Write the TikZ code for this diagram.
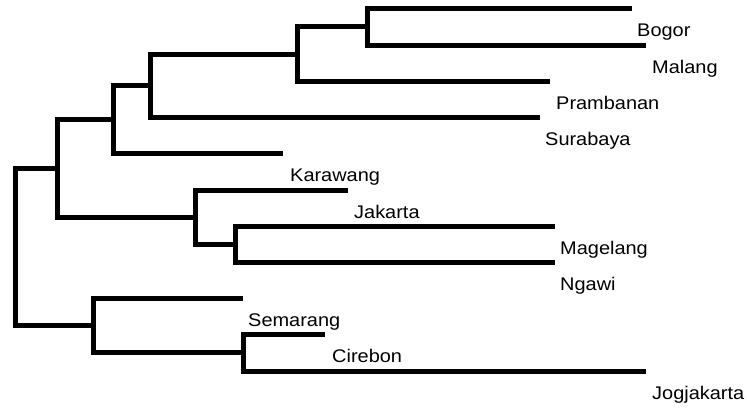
\documentclass[tikz,border=0pt]{standalone}
\usepackage{fontspec}
\setmainfont{Liberation Sans}
\newcommand{\leaftext}[1]{\scalebox{1.09}[1]{#1}}
\begin{document}
\begin{tikzpicture}[x=1pt,y=-1pt,
  branch/.style={line width=5pt,line cap=butt,line join=miter},
  leaflabel/.style={anchor=base west,inner sep=0pt,font=\fontsize{18.3}{20}\selectfont}]
\useasboundingbox (0,0) rectangle (747,407);
% internal nodes
\coordinate (A) at (15,246.5);
\coordinate (B) at (57,168);
\coordinate (C) at (113,119.5);
\coordinate (D) at (150,85.5);
\coordinate (E) at (297,54);
\coordinate (F) at (367,26.5);
\coordinate (H) at (195,217);
\coordinate (I) at (235,244);
\coordinate (K) at (93,325);
\coordinate (L) at (243,352.5);
% leaf ends
\coordinate (l1) at (632,8);
\coordinate (l2) at (646,45);
\coordinate (l3) at (550,81);
\coordinate (l4) at (540,117);
\coordinate (l5) at (283,153);
\coordinate (l6) at (348,190);
\coordinate (l7) at (555,226);
\coordinate (l8) at (555,262);
\coordinate (l9) at (243,298);
\coordinate (l10) at (325,334);
\coordinate (l11) at (646,371);
% branches
\draw[branch] (A) |- (B);
\draw[branch] (A) |- (K);
\draw[branch] (B) |- (C);
\draw[branch] (B) |- (H);
\draw[branch] (C) |- (D);
\draw[branch] (C) |- (l5);
\draw[branch] (D) |- (E);
\draw[branch] (D) |- (l4);
\draw[branch] (E) |- (F);
\draw[branch] (E) |- (l3);
\draw[branch] (F) |- (l1);
\draw[branch] (F) |- (l2);
\draw[branch] (H) |- (l6);
\draw[branch] (H) |- (I);
\draw[branch] (I) |- (l7);
\draw[branch] (I) |- (l8);
\draw[branch] (K) |- (l9);
\draw[branch] (K) |- (L);
\draw[branch] (L) |- (l10);
\draw[branch] (L) |- (l11);
% labels
\node[leaflabel] (t1) at (637,36.5) {\leaftext{Bogor}};
\node[leaflabel] (t2) at (652,73.5) {\leaftext{Malang}};
\node[leaflabel] (t3) at (556,109.5) {\leaftext{Prambanan}};
\node[leaflabel] (t4) at (545,145.5) {\leaftext{Surabaya}};
\node[leaflabel] (t5) at (290,181.5) {\leaftext{Karawang}};
\node[leaflabel] (t6) at (354,218.5) {\leaftext{Jakarta}};
\node[leaflabel] (t7) at (560,254.5) {\leaftext{Magelang}};
\node[leaflabel] (t8) at (560,290.5) {\leaftext{Ngawi}};
\node[leaflabel] (t9) at (248,326.5) {\leaftext{Semarang}};
\node[leaflabel] (t10) at (332,362.5) {\leaftext{Cirebon}};
\node[leaflabel] (t11) at (652,399.5) {\leaftext{Jogjakarta}};
\end{tikzpicture}
\end{document}
